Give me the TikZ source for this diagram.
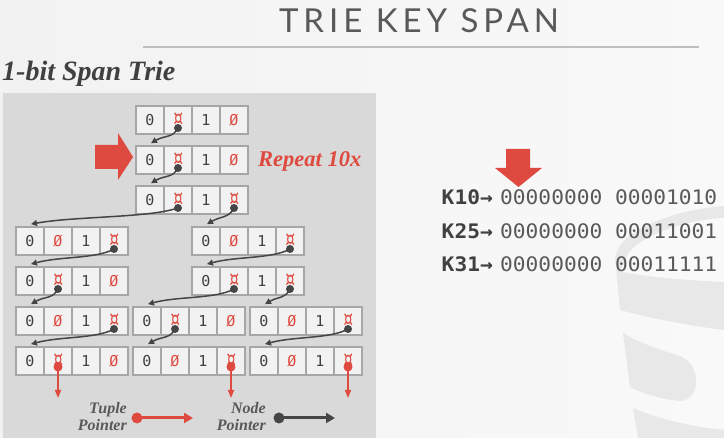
\documentclass[tikz,border=0pt]{standalone}
\usepackage{fontspec}
\usetikzlibrary{arrows.meta,calc}

\newfontfamily\cellfont{DejaVu Sans Mono}
\newfontfamily\codefont[FakeStretch=1.06]{DejaVu Sans Mono}
\newfontfamily\headfont{Liberation Serif}
\newfontfamily\titlefont[LetterSpace=15]{Lato}

\definecolor{accent}{HTML}{DE4A3F}
\definecolor{ink}{HTML}{404040}
\definecolor{softink}{HTML}{595959}
\definecolor{panel}{HTML}{D9D9D9}
\definecolor{cellfill}{HTML}{F2F2F2}
\definecolor{cellline}{HTML}{A6A6A6}
\definecolor{ptr}{HTML}{454545}
\definecolor{rulegray}{HTML}{BFBFBF}
\definecolor{bgL}{HTML}{F2F2F2}
\definecolor{bgR}{HTML}{F9F9F9}
\definecolor{logogray}{HTML}{E8E8E8}

% red markers inside the cells
\newcommand\Tp{\textcolor{accent}{\raisebox{-2.5pt}{\scalebox{1.25}[1.85]{¤}}}}
\newcommand\Nl{\textcolor{accent}{Ø}}

\tikzset{
  cell/.style={draw=cellline, line width=1.8pt, fill=cellfill,
    minimum width=28pt, minimum height=28pt, inner sep=0pt,
    text height=11pt, text depth=0pt, text=ink,
    font=\cellfont\fontsize{15}{15}\selectfont},
  ndot/.style={circle, fill=ptr, inner sep=0pt, minimum size=8pt},
  tdot/.style={circle, fill=accent, inner sep=0pt, minimum size=9pt},
  nlink/.style={draw=ptr, line width=1.5pt, -{Triangle[length=6pt,width=6pt]}},
  tlink/.style={draw=accent, line width=1.5pt, -{Triangle[length=8pt,width=6pt]}},
  legendtext/.style={align=right, text=softink, inner sep=0pt,
    font=\headfont\bfseries\itshape\fontsize{16}{17}\selectfont},
  keytext/.style={anchor=base east, inner sep=0pt, text=ink,
    font=\codefont\bfseries\fontsize{20}{20}\selectfont},
  bitstext/.style={anchor=base west, inner sep=0pt, text=softink,
    font=\codefont\fontsize{20}{20}\selectfont},
}

% one trie node: name, left x, top y, four cells
\newcommand\trienode[7]{%
  \node[cell] (#1-1) at ({#2+14},{#3+14}) {#4};
  \node[cell] (#1-2) at ({#2+42},{#3+14}) {#5};
  \node[cell] (#1-3) at ({#2+70},{#3+14}) {#6};
  \node[cell] (#1-4) at ({#2+98},{#3+14}) {#7};
}
% node pointer from a cell to the first cell of a child node
\newcommand\linkto[4]{%
  \coordinate (#1-p) at ($(#1.center)+(0,8)$);
  \coordinate (#2-in) at ($(#2-1.north)+(1,-2)$);
  \draw[nlink] (#1-p) .. controls +(#3) and +(#4) .. (#2-in);
  \node[ndot] (#1-dot) at (#1-p) {};
}
% tuple pointer leaving a cell downwards
\newcommand\tuplelink[1]{%
  \coordinate (#1-p) at ($(#1.center)+(0,6)$);
  \coordinate (#1-out) at ($(#1.center)+(0,37)$);
  \draw[tlink] (#1-p) -- (#1-out);
  \node[tdot] (#1-dot) at (#1-p) {};
}

\begin{document}
\begin{tikzpicture}[x=1pt,y=-1pt]
\useasboundingbox (0,0) rectangle (724,438);
\shade[left color=bgL, right color=bgR] (0,0) rectangle (724,438);

% faint cylinder logo in the lower right corner
\fill[logogray] (615,258) .. controls (618,232) and (670,210) .. (724,206)
  -- (724,330) .. controls (690,326) and (650,318) .. (620,310) -- cycle;
\fill[bgR] (625,262) .. controls (628,240) and (680,220) .. (724,218)
  -- (724,282) .. controls (680,280) and (640,276) .. (619,271) -- cycle;
\fill[logogray] (623,333) .. controls (640,343) and (660,350) .. (677,355)
  .. controls (702,362) and (702,400) .. (680,401)
  .. controls (660,399) and (642,393) .. (630,387) -- cycle;
\fill[logogray] (633,408) .. controls (660,420) and (700,428) .. (724,430)
  -- (724,438) -- (638,438) -- cycle;

% title and rule
\node[anchor=base, inner sep=0pt, text=softink,
  font=\titlefont\fontsize{33}{33}\selectfont] (title) at (419,33) {TRIE KEY SPAN};
\draw[rulegray, line width=2pt] (143,47.5) -- (699,47.5);

% subtitle and panel
\node[anchor=base west, inner sep=0pt, text=ink,
  font=\headfont\bfseries\itshape\fontsize{28}{28}\selectfont] (sub) at (2,81) {1-bit Span Trie};
\fill[panel] (3,93) rectangle (376,438);

% trie nodes
\trienode{a}{136}{106}{0}{\Tp}{1}{\Nl}
\trienode{b}{136}{146}{0}{\Tp}{1}{\Nl}
\trienode{c}{136}{186}{0}{\Tp}{1}{\Tp}
\trienode{d}{16}{227}{0}{\Nl}{1}{\Tp}
\trienode{e}{192}{227}{0}{\Nl}{1}{\Tp}
\trienode{f}{16}{267}{0}{\Tp}{1}{\Nl}
\trienode{g}{192}{267}{0}{\Tp}{1}{\Tp}
\trienode{h}{16}{307}{0}{\Nl}{1}{\Tp}
\trienode{i}{133}{307}{0}{\Tp}{1}{\Nl}
\trienode{j}{250}{307}{0}{\Nl}{1}{\Tp}
\trienode{k}{16}{347}{0}{\Tp}{1}{\Nl}
\trienode{l}{133}{347}{0}{\Nl}{1}{\Tp}
\trienode{m}{250}{347}{0}{\Nl}{1}{\Tp}

% node pointers
\linkto{a-2}{b}{-5,10}{14,-8}
\linkto{b-2}{c}{-5,10}{14,-8}
\linkto{c-2}{d}{-30,10}{45,-8}
\linkto{c-4}{e}{-5,10}{14,-8}
\linkto{d-4}{f}{-18,10}{30,-8}
\linkto{e-4}{g}{-18,10}{30,-8}
\linkto{f-2}{h}{-5,10}{14,-8}
\linkto{g-2}{i}{-18,10}{30,-8}
\linkto{g-4}{j}{-5,10}{14,-8}
\linkto{h-4}{k}{-18,10}{30,-8}
\linkto{i-2}{l}{-5,10}{14,-8}
\linkto{j-4}{m}{-18,10}{30,-8}

% tuple pointers
\tuplelink{k-2}
\tuplelink{l-4}
\tuplelink{m-4}

% repeat marker
\fill[accent] (95,145) -- (118,145) -- (118,133) -- (133,157) -- (118,180)
  -- (118,169) -- (95,169) -- cycle;
\node[anchor=west, inner sep=0pt, text=accent,
  font=\headfont\bfseries\itshape\fontsize{22.5}{22.5}\selectfont] (rep) at (258,161) {Repeat 10x};

% legend
\node[legendtext, anchor=east] (tupleleg) at (127,416.5) {Tuple\\Pointer};
\node[tdot, minimum size=11pt] (tupledot) at (137,418) {};
\coordinate (tupleend) at (193,418);
\draw[tlink, line width=3pt, -{Triangle[length=9pt,width=10pt]}] (tupledot.center) -- (tupleend);
\node[legendtext, anchor=east] (nodeleg) at (266,416.5) {Node\\Pointer};
\node[ndot, minimum size=11pt] (nodedot) at (279,418) {};
\coordinate (nodeend) at (335,418);
\draw[nlink, line width=3pt, -{Triangle[length=9pt,width=10pt]}] (nodedot.center) -- (nodeend);

% key bits
\fill[accent] (506,149) -- (530,149) -- (530,168) -- (542,168) -- (518.5,187)
  -- (495,168) -- (506,168) -- cycle;
\node[keytext] (k10) at (493,205) {K10→};
\node[bitstext] (b10) at (500,205) {00000000 00001010};
\node[keytext] (k25) at (493,238.5) {K25→};
\node[bitstext] (b25) at (500,238.5) {00000000 00011001};
\node[keytext] (k31) at (493,272) {K31→};
\node[bitstext] (b31) at (500,272) {00000000 00011111};
\end{tikzpicture}
\end{document}
